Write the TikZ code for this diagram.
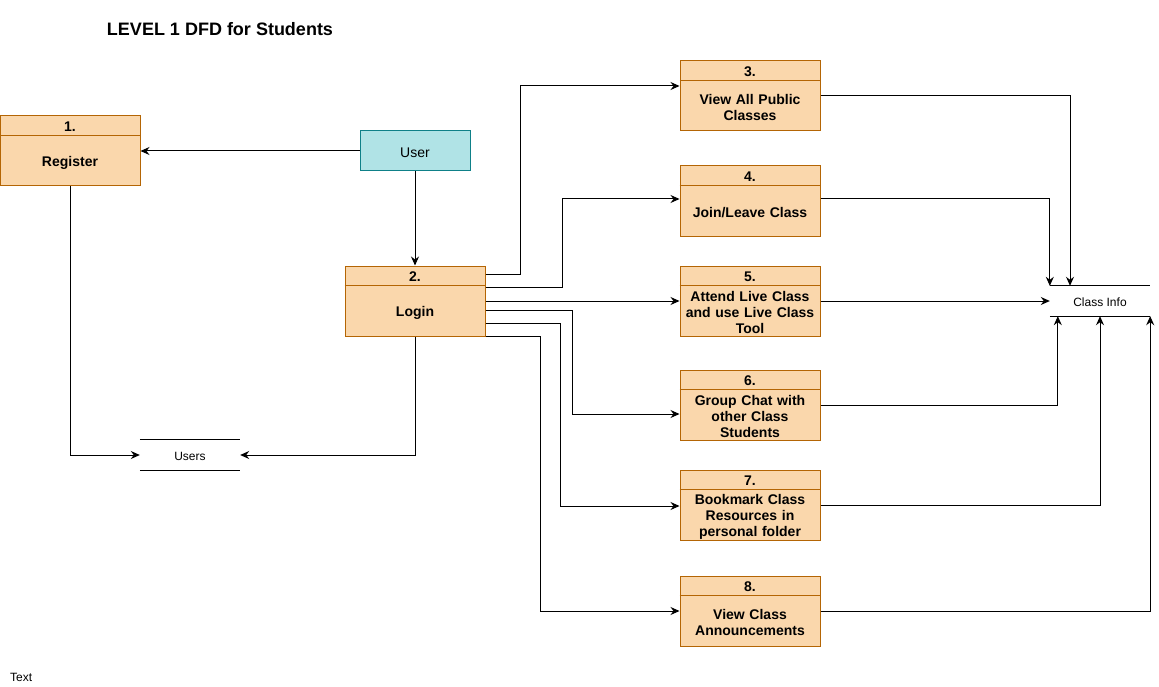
\documentclass[tikz,border=0pt]{standalone}
\usepackage{fontspec}
\setmainfont{Liberation Sans}
\usetikzlibrary{arrows.meta,calc}
\definecolor{pfill}{HTML}{FAD7AC}
\definecolor{pdraw}{HTML}{B46504}
\definecolor{ufill}{HTML}{B0E3E6}
\definecolor{udraw}{HTML}{0E8088}
\tikzset{
  proc/.style={draw=pdraw, fill=pfill, line width=1pt, minimum width=140pt, minimum height=70pt, inner sep=0pt},
  ptext/.style={font=\fontsize{14}{16}\selectfont\bfseries, align=center, text width=136pt, inner sep=0pt},
  entity/.style={draw=udraw, fill=ufill, line width=1pt, minimum width=110pt, minimum height=40pt, inner sep=0pt, font=\fontsize{14}{16}\selectfont},
  store/.style={minimum width=100pt, minimum height=30pt, inner sep=0pt, font=\fontsize{12}{14}\selectfont},
  flow/.style={draw=black, line width=1pt, -{Stealth[length=9pt,width=8pt,inset=3pt]}},
  sline/.style={draw=black, line width=1pt}
}
\newcommand{\procbox}[4]{% name, x, y, number
  \node[proc] (#1) at (#2,#3) {};
  \draw[pdraw, line width=1pt] ([yshift=-20pt]#1.north west) -- ([yshift=-20pt]#1.north east);
  \node[ptext] (#1h) at ([yshift=-11.5pt]#1.north) {#4};
}
\begin{document}
\begin{tikzpicture}[x=1pt,y=-1pt]
\useasboundingbox (0,0) rectangle (1159,687);
\node[font=\fontsize{18}{20}\selectfont\bfseries] (title) at (220,29) {LEVEL 1 DFD for Students};
\node[font=\fontsize{12}{14}\selectfont, anchor=west, inner sep=0pt] (txt) at (10,677) {Text};

\procbox{p1}{70}{151}{1.}
\node[ptext] (p1b) at ([yshift=-11.5pt]p1.center) {Register};
\procbox{p2}{415}{301}{2.}
\node[ptext] (p2b) at ([yshift=-11.5pt]p2.center) {Login};
\procbox{p3}{750}{96}{3.}
\node[ptext] (p3b) at ([yshift=-11.5pt]p3.center) {View All Public\\Classes};
\procbox{p4}{750}{201}{4.}
\node[ptext] (p4b) at ([yshift=-11.5pt]p4.center) {Join/Leave Class};
\procbox{p5}{750}{301}{5.}
\node[ptext] (p5b) at ([yshift=-11.5pt]p5.center) {Attend Live Class\\and use Live Class\\Tool};
\procbox{p6}{750}{405}{6.}
\node[ptext] (p6b) at ([yshift=-11.5pt]p6.center) {Group Chat with\\other Class\\Students};
\procbox{p7}{750}{505}{7.}
\node[ptext] (p7b) at ([yshift=-11.5pt]p7.center) {Bookmark Class\\Resources in\\personal folder};
\procbox{p8}{750}{611}{8.}
\node[ptext] (p8b) at ([yshift=-11.5pt]p8.center) {View Class\\Announcements};

\node[entity] (user) at (415,151) {};
\node[font=\fontsize{14}{16}\selectfont, inner sep=0pt] (usert) at ([yshift=-1.5pt]user.center) {User};

\node[store] (us) at (190,455) {};
\node[font=\fontsize{12}{14}\selectfont, inner sep=0pt] (ust) at ([yshift=-1pt]us.center) {Users};
\draw[sline] (us.north west) -- (us.north east);
\draw[sline] (us.south west) -- (us.south east);
\node[store] (ci) at (1100,301) {};
\node[font=\fontsize{12}{14}\selectfont, inner sep=0pt] (cit) at ([yshift=-1pt]ci.center) {Class Info};
\draw[sline] (ci.north west) -- (ci.north east);
\draw[sline] (ci.south west) -- (ci.south east);

% flows
\draw[flow] (user.west) -- (p1.east);
\draw[flow] (user.south) -- (p2.north);
\draw[flow] (p1.south) |- (us.west);
\draw[flow] (p2.south) |- (us.east);

\draw[flow] ([yshift=27pt]p2.east) -- ++(35,0) |- ([yshift=10pt]p3.west);
\draw[flow] ([yshift=14pt]p2.east) -- ++(77,0) |- ([yshift=2pt]p4.west);
\draw[flow] (p2.east) -- (p5.west);
\draw[flow] ([yshift=-9pt]p2.east) -- ++(87,0) |- ([yshift=-9pt]p6.west);
\draw[flow] ([yshift=-22pt]p2.east) -- ++(75,0) |- ([yshift=-1pt]p7.west);
\draw[flow] (p2.south east) -- ++(55,0) |- (p8.west);

\draw[flow] (p3.east) -| ([xshift=-30pt]ci.north);
\draw[flow] ([yshift=2pt]p4.east) -| (ci.north west);
\draw[flow] (p5.east) -- (ci.west);
\draw[flow] (p6.east) -| ([xshift=8pt]ci.south west);
\draw[flow] (p7.east) -| (ci.south);
\draw[flow] (p8.east) -| (ci.south east);
\end{tikzpicture}
\end{document}
